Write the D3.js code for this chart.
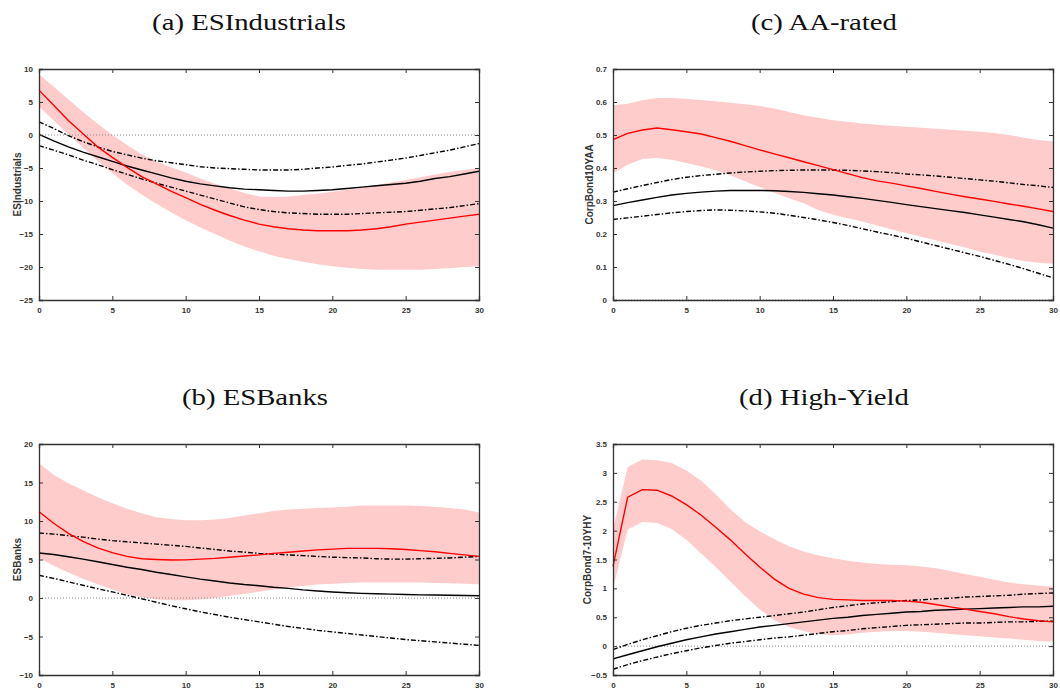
<!DOCTYPE html>
<html>
<head>
<meta charset="utf-8">
<script src="https://cdn.jsdelivr.net/npm/d3@7"></script>
<style>
  body { margin: 0; background: #fff; }
  .title { font-family: "Liberation Serif", serif; font-size: 23px; fill: #111; }
  .ylab { font-family: "Liberation Sans", Arial, sans-serif; font-size: 10px; font-weight: bold; fill: #333; }
  .axis text { font-family: "Liberation Sans", Arial, sans-serif; font-size: 8px; font-weight: bold; fill: #333; }
  .axis path, .axis line { stroke: #333; }
</style>
</head>
<body>
<div id="chart"></div>
<script>
const horizon = d3.range(0, 31);

// (a) ESIndustrials
const indRed   = [6.8, 4.5, 2.2, 0.2, -1.8, -3.4, -4.9, -6.3, -7.4, -8.5, -9.5, -10.5, -11.4, -12.2, -12.9, -13.5, -13.9, -14.2, -14.4, -14.5, -14.5, -14.5, -14.4, -14.2, -13.9, -13.5, -13.2, -12.9, -12.6, -12.3, -12.0];
const indRedHi = [9.2, 7.3, 5.4, 3.5, 1.7, 0.0, -1.5, -2.9, -4.0, -4.9, -5.7, -6.6, -7.4, -8.1, -8.8, -9.3, -9.4, -9.3, -9.1, -8.9, -8.6, -8.3, -8.0, -7.6, -7.2, -6.8, -6.4, -6.0, -5.6, -5.3, -5.0];
const indRedLo = [4.3, 2.2, 0.1, -1.9, -3.9, -5.8, -7.5, -9.0, -10.4, -11.7, -12.9, -14.0, -15.0, -16.0, -16.9, -17.6, -18.3, -18.8, -19.2, -19.6, -19.9, -20.1, -20.3, -20.4, -20.4, -20.4, -20.4, -20.3, -20.2, -20.0, -19.9];
const indBlk   = [0.1, -0.9, -1.8, -2.6, -3.3, -4.0, -4.7, -5.3, -5.9, -6.5, -7.0, -7.4, -7.7, -8.0, -8.2, -8.3, -8.4, -8.5, -8.5, -8.4, -8.3, -8.1, -7.9, -7.7, -7.5, -7.3, -7.0, -6.6, -6.3, -5.9, -5.5];
const indBlkHi = [2.0, 1.0, -0.1, -1.0, -1.8, -2.5, -3.0, -3.5, -3.9, -4.2, -4.5, -4.8, -5.0, -5.1, -5.2, -5.3, -5.3, -5.3, -5.2, -5.0, -4.85, -4.6, -4.4, -4.1, -3.8, -3.5, -3.1, -2.7, -2.3, -1.8, -1.3];
const indBlkLo = [-1.6, -2.3, -3.0, -3.8, -4.5, -5.25, -5.95, -6.65, -7.3, -7.9, -8.5, -9.1, -9.7, -10.3, -10.9, -11.3, -11.6, -11.8, -11.9, -12.0, -12.0, -12.0, -11.9, -11.8, -11.7, -11.6, -11.4, -11.2, -11.0, -10.7, -10.4];

// (b) ESBanks
const bnkRed   = [11.2, 9.7, 8.4, 7.35, 6.5, 5.9, 5.4, 5.1, 5.0, 4.94, 4.95, 5.05, 5.15, 5.3, 5.45, 5.6, 5.8, 5.95, 6.1, 6.25, 6.35, 6.45, 6.45, 6.45, 6.4, 6.3, 6.15, 6.0, 5.8, 5.6, 5.4];
const bnkRedHi = [17.5, 16.0, 14.9, 14.0, 13.1, 12.3, 11.6, 11.0, 10.5, 10.25, 10.1, 10.1, 10.2, 10.4, 10.7, 11.0, 11.3, 11.5, 11.6, 11.7, 11.75, 11.85, 12.0, 12.0, 12.0, 12.0, 11.95, 11.85, 11.7, 11.5, 11.1];
const bnkRedLo = [5.2, 4.2, 3.3, 2.5, 1.8, 1.1, 0.5, 0.1, -0.2, -0.3, -0.3, -0.2, 0.0, 0.3, 0.55, 0.8, 1.1, 1.35, 1.55, 1.75, 1.85, 1.95, 2.0, 2.0, 2.0, 2.0, 2.0, 1.95, 1.9, 1.85, 1.8];
const bnkBlk   = [5.85, 5.65, 5.35, 5.05, 4.7, 4.35, 4.0, 3.7, 3.35, 3.05, 2.75, 2.45, 2.2, 1.95, 1.75, 1.6, 1.4, 1.25, 1.05, 0.9, 0.78, 0.68, 0.6, 0.55, 0.5, 0.45, 0.4, 0.38, 0.35, 0.33, 0.3];
const bnkBlkHi = [8.45, 8.3, 8.1, 7.9, 7.65, 7.45, 7.3, 7.15, 7.0, 6.85, 6.7, 6.5, 6.3, 6.1, 5.95, 5.8, 5.7, 5.6, 5.5, 5.4, 5.3, 5.25, 5.2, 5.1, 5.05, 5.05, 5.1, 5.15, 5.2, 5.3, 5.4];
const bnkBlkLo = [2.95, 2.55, 2.1, 1.65, 1.2, 0.8, 0.35, -0.1, -0.55, -1.0, -1.4, -1.8, -2.15, -2.5, -2.8, -3.1, -3.4, -3.7, -3.95, -4.2, -4.4, -4.6, -4.8, -5.0, -5.2, -5.4, -5.55, -5.7, -5.85, -6.0, -6.15];

// (c) AA-rated
const aaRed   = [0.486, 0.505, 0.515, 0.521, 0.516, 0.510, 0.503, 0.492, 0.481, 0.468, 0.455, 0.443, 0.431, 0.419, 0.407, 0.395, 0.383, 0.371, 0.361, 0.354, 0.346, 0.338, 0.329, 0.321, 0.313, 0.306, 0.299, 0.291, 0.284, 0.276, 0.268];
const aaRedHi = [0.59, 0.595, 0.605, 0.612, 0.612, 0.61, 0.606, 0.602, 0.598, 0.593, 0.588, 0.58, 0.57, 0.56, 0.552, 0.545, 0.54, 0.535, 0.531, 0.528, 0.525, 0.522, 0.519, 0.516, 0.513, 0.51, 0.506, 0.5, 0.492, 0.485, 0.48];
const aaRedLo = [0.385, 0.41, 0.427, 0.43, 0.425, 0.415, 0.405, 0.393, 0.378, 0.36, 0.342, 0.325, 0.308, 0.293, 0.273, 0.258, 0.248, 0.238, 0.226, 0.214, 0.203, 0.192, 0.181, 0.17, 0.159, 0.147, 0.137, 0.127, 0.118, 0.113, 0.11];
const aaBlk   = [0.286, 0.295, 0.303, 0.311, 0.318, 0.323, 0.327, 0.33, 0.332, 0.332, 0.332, 0.331, 0.329, 0.326, 0.322, 0.318, 0.313, 0.308, 0.302, 0.296, 0.289, 0.283, 0.277, 0.271, 0.265, 0.258, 0.251, 0.244, 0.237, 0.228, 0.218];
const aaBlkHi = [0.327, 0.337, 0.347, 0.356, 0.365, 0.372, 0.377, 0.381, 0.385, 0.388, 0.39, 0.392, 0.393, 0.394, 0.394, 0.394, 0.393, 0.391, 0.389, 0.386, 0.382, 0.379, 0.376, 0.372, 0.368, 0.364, 0.36, 0.355, 0.35, 0.346, 0.341];
const aaBlkLo = [0.244, 0.249, 0.254, 0.259, 0.264, 0.268, 0.271, 0.273, 0.272, 0.27, 0.267, 0.263, 0.257, 0.25, 0.243, 0.235, 0.226, 0.216, 0.206, 0.197, 0.187, 0.176, 0.165, 0.154, 0.143, 0.132, 0.12, 0.108, 0.095, 0.081, 0.067];

// (d) High-Yield
const hyRed   = [1.38, 2.58, 2.71, 2.70, 2.60, 2.45, 2.27, 2.06, 1.84, 1.6, 1.37, 1.16, 1.0, 0.9, 0.84, 0.81, 0.8, 0.79, 0.79, 0.79, 0.78, 0.76, 0.72, 0.68, 0.64, 0.6, 0.56, 0.51, 0.47, 0.44, 0.42];
const hyRedHi = [2.02, 3.1, 3.23, 3.22, 3.17, 3.04, 2.87, 2.63, 2.37, 2.15, 1.99, 1.85, 1.73, 1.64, 1.57, 1.52, 1.48, 1.45, 1.42, 1.41, 1.4, 1.38, 1.35, 1.3, 1.25, 1.2, 1.15, 1.1, 1.07, 1.05, 1.03];
const hyRedLo = [1.0, 2.02, 2.15, 2.13, 2.03, 1.84, 1.61, 1.37, 1.12, 0.87, 0.64, 0.45, 0.33, 0.26, 0.21, 0.19, 0.2, 0.23, 0.25, 0.26, 0.26, 0.25, 0.23, 0.21, 0.19, 0.17, 0.15, 0.13, 0.11, 0.09, 0.08];
const hyBlk   = [-0.22, -0.15, -0.08, -0.01, 0.05, 0.11, 0.16, 0.21, 0.25, 0.29, 0.33, 0.36, 0.39, 0.42, 0.45, 0.48, 0.5, 0.53, 0.55, 0.57, 0.59, 0.6, 0.62, 0.63, 0.64, 0.65, 0.66, 0.67, 0.68, 0.68, 0.69];
const hyBlkHi = [-0.06, 0.03, 0.11, 0.18, 0.25, 0.31, 0.36, 0.4, 0.44, 0.47, 0.5, 0.53, 0.56, 0.59, 0.63, 0.67, 0.7, 0.73, 0.75, 0.77, 0.79, 0.8, 0.82, 0.83, 0.85, 0.86, 0.87, 0.88, 0.9, 0.91, 0.92];
const hyBlkLo = [-0.4, -0.32, -0.25, -0.19, -0.13, -0.08, -0.03, 0.01, 0.05, 0.08, 0.11, 0.14, 0.16, 0.19, 0.22, 0.25, 0.27, 0.3, 0.32, 0.34, 0.36, 0.37, 0.38, 0.39, 0.4, 0.4, 0.41, 0.42, 0.42, 0.43, 0.43];

const xTicks = [0, 5, 10, 15, 20, 25, 30];
const indTicks = [-25, -20, -15, -10, -5, 0, 5, 10];
const bnkTicks = [-10, -5, 0, 5, 10, 15, 20];
const aaTicks = [0, 0.1, 0.2, 0.3, 0.4, 0.5, 0.6, 0.7];
const hyTicks = [-0.5, 0, 0.5, 1, 1.5, 2, 2.5, 3, 3.5];

const panels = [
  { title: "(a) ESIndustrials", ylab: "ESIndustrials", left: 39, top: 69, tx: 249, ty: 30, yTicks: indTicks, labOff: -18,
    red: indRed, hi: indRedHi, lo: indRedLo, blk: indBlk, bHi: indBlkHi, bLo: indBlkLo },
  { title: "(b) ESBanks", ylab: "ESBanks", left: 39, top: 444, tx: 255, ty: 405, yTicks: bnkTicks, labOff: -18,
    red: bnkRed, hi: bnkRedHi, lo: bnkRedLo, blk: bnkBlk, bHi: bnkBlkHi, bLo: bnkBlkLo },
  { title: "(c) AA-rated", ylab: "CorpBond10YAA", left: 613, top: 69, tx: 824, ty: 30, yTicks: aaTicks, labOff: -20,
    red: aaRed, hi: aaRedHi, lo: aaRedLo, blk: aaBlk, bHi: aaBlkHi, bLo: aaBlkLo },
  { title: "(d) High-Yield", ylab: "CorpBond7-10YHY", left: 613, top: 444, tx: 824, ty: 405, yTicks: hyTicks, labOff: -22,
    red: hyRed, hi: hyRedHi, lo: hyRedLo, blk: hyBlk, bHi: hyBlkHi, bLo: hyBlkLo }
];

const width = 1060, height = 689;
const pw = 440, ph = 231;

const svg = d3.select("#chart").append("svg")
  .attr("width", width)
  .attr("height", height);

panels.forEach(p => {
  // LaTeX-style caption, widened a bit to match Computer Modern
  svg.append("text")
    .attr("class", "title")
    .attr("transform", `translate(${p.tx},${p.ty}) scale(1.25,1)`)
    .attr("text-anchor", "middle")
    .text(p.title);

  const g = svg.append("g").attr("transform", `translate(${p.left},${p.top})`);

  const x = d3.scaleLinear().domain([0, 30]).range([0, pw]);
  const y = d3.scaleLinear().domain(d3.extent(p.yTicks)).range([ph, 0]);

  const band = d3.area()
    .x((d, i) => x(horizon[i]))
    .y0((d, i) => y(p.lo[i]))
    .y1((d, i) => y(p.hi[i]));

  g.append("path")
    .datum(p.hi)
    .attr("d", band)
    .attr("fill", "#ffcccc");

  // zero reference
  g.append("line")
    .attr("x1", 0).attr("x2", pw)
    .attr("y1", y(0)).attr("y2", y(0))
    .attr("stroke", "#888")
    .attr("stroke-width", 1)
    .attr("stroke-dasharray", "1,2");

  const line = d3.line().x((d, i) => x(horizon[i])).y(d => y(d));

  g.append("path").datum(p.bHi).attr("d", line)
    .attr("fill", "none").attr("stroke", "#000").attr("stroke-width", 1.4)
    .attr("stroke-dasharray", "5,2,1.5,2");
  g.append("path").datum(p.bLo).attr("d", line)
    .attr("fill", "none").attr("stroke", "#000").attr("stroke-width", 1.4)
    .attr("stroke-dasharray", "5,2,1.5,2");
  g.append("path").datum(p.blk).attr("d", line)
    .attr("fill", "none").attr("stroke", "#000").attr("stroke-width", 1.4);
  g.append("path").datum(p.red).attr("d", line)
    .attr("fill", "none").attr("stroke", "#ff0000").attr("stroke-width", 1.4);

  // axes with inward ticks on all four sides
  g.append("g").attr("class", "axis")
    .attr("transform", `translate(0,${ph})`)
    .call(d3.axisBottom(x).tickValues(xTicks).tickSize(-4).tickPadding(7).tickFormat(d3.format("d")));
  g.append("g").attr("class", "axis")
    .call(d3.axisTop(x).tickValues(xTicks).tickSize(-4).tickFormat(""));
  g.append("g").attr("class", "axis")
    .call(d3.axisLeft(y).tickValues(p.yTicks).tickSize(-4).tickPadding(6).tickFormat(d => d3.format("")(+d.toFixed(2))));
  g.append("g").attr("class", "axis")
    .attr("transform", `translate(${pw},0)`)
    .call(d3.axisRight(y).tickValues(p.yTicks).tickSize(-4).tickFormat(""));

  g.selectAll(".axis .domain").attr("stroke-width", 1.3);

  g.append("text")
    .attr("class", "ylab")
    .attr("transform", `translate(${p.labOff},${ph / 2}) rotate(-90)`)
    .attr("text-anchor", "middle")
    .text(p.ylab);
});
</script>
</body>
</html>
